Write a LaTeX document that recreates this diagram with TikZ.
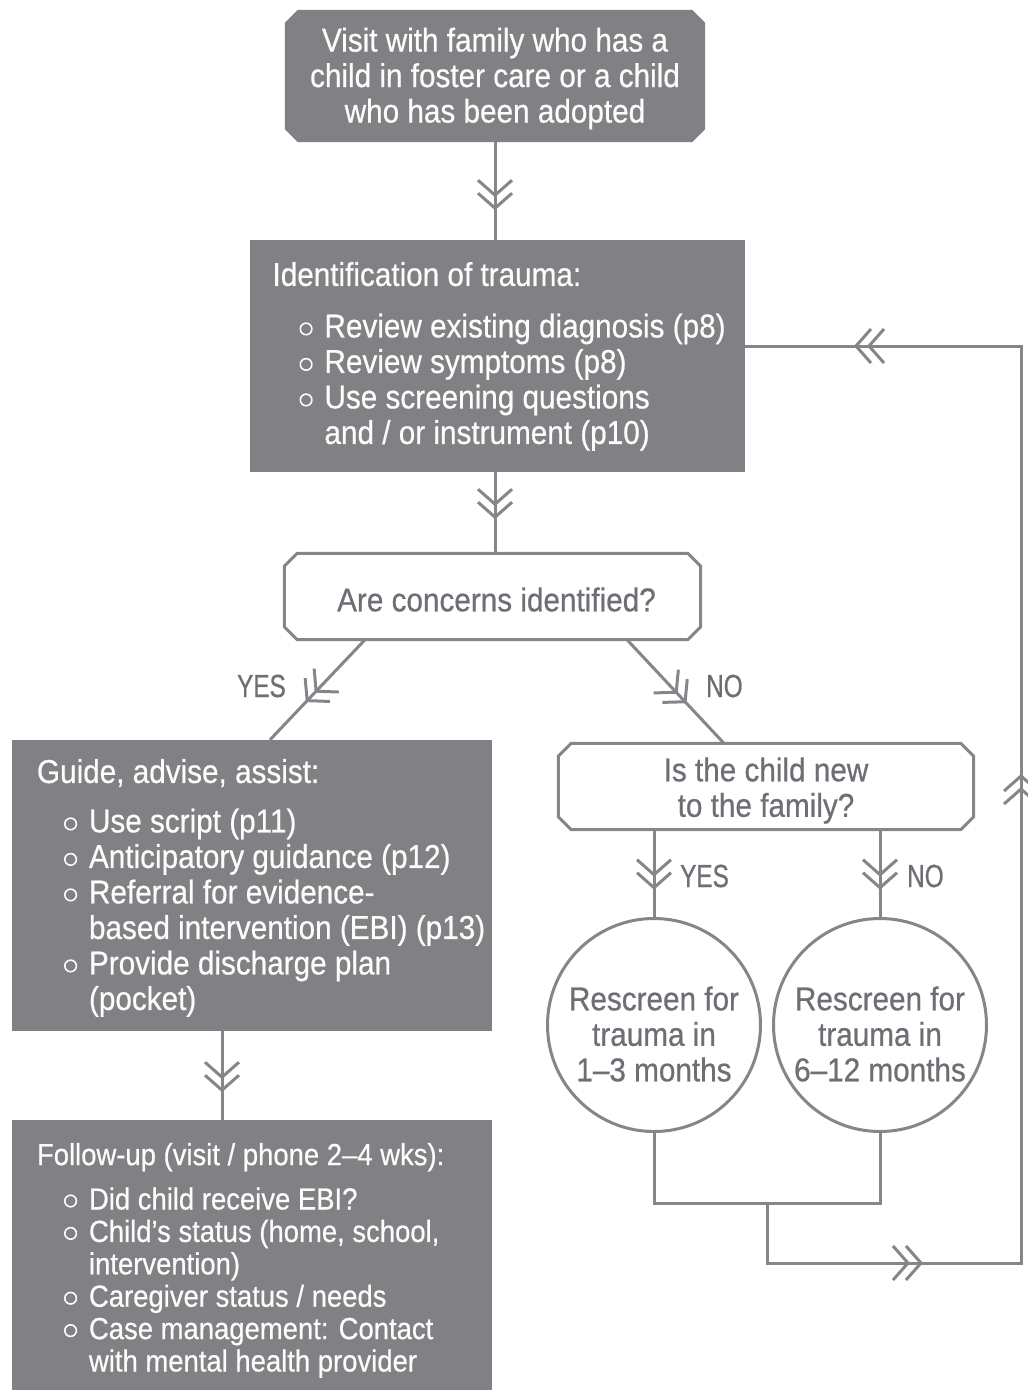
\documentclass[tikz,border=0pt]{standalone}
\usepackage{fontspec}
\setmainfont{Liberation Sans}[FakeStretch=0.9,FakeBold=0.6]
\newfontfamily\lblfont{Liberation Sans}[FakeStretch=0.76,FakeBold=0.6]
\usetikzlibrary{calc,decorations.markings,backgrounds}

\definecolor{boxfill}{RGB}{128,128,133}
\definecolor{linegray}{RGB}{134,134,138}
\definecolor{textgray}{RGB}{110,111,117}
\definecolor{boxtext}{RGB}{252,252,248}

% hollow round bullet for the lists
\newcommand\listbul{\makebox[25pt][l]{\tikz[baseline=0pt,x=1pt,y=1pt]\draw[line width=1.6pt,boxtext] (0,8.5) circle[radius=5.8];}}
\newcommand\itemind{\hspace*{27pt}}
\newcommand\contind{\hspace*{52pt}}

% octagonal (chamfered) outline around a named node
\newcommand\chamferbox[3]{\path[#3] ([xshift=#2]#1.north west) -- ([xshift=-#2]#1.north east) -- ([yshift=-#2]#1.north east) -- ([yshift=#2]#1.south east) -- ([xshift=-#2]#1.south east) -- ([xshift=#2]#1.south west) -- ([yshift=#2]#1.south west) -- ([yshift=-#2]#1.north west) -- cycle;}

\tikzset{
  conn/.style={draw=linegray, line width=3pt},
  chevat/.style={postaction={decorate,decoration={markings,mark=at position #1 with {
      \draw[linegray,line width=3pt,line join=miter]
        (-15pt,17pt) -- (0pt,0pt) -- (-15pt,-17pt)
        (-28pt,17pt) -- (-13pt,0pt) -- (-28pt,-17pt);}}}},
  darkbox/.style={rectangle, fill=boxfill, inner sep=0pt},
  octbox/.style={rectangle, inner sep=0pt},
  boxtxt/.style={text=boxtext, inner sep=0pt, align=left, font=\fontsize{33}{35.5}\selectfont},
  centxt/.style={inner sep=0pt, align=center, font=\fontsize{33}{35.5}\selectfont},
  circ/.style={circle, draw=linegray, line width=3pt, fill=white, minimum size=213pt, inner sep=0pt},
  lbl/.style={text=textgray, inner sep=0pt, font=\lblfont\fontsize{32}{34}\selectfont},
}

\begin{document}
\begin{tikzpicture}[x=1pt,y=-1pt]
\useasboundingbox (0,0) rectangle (1028,1390);
\clip (0,0) rectangle (1028,1390);

% box shapes
\node[octbox, minimum width=420pt, minimum height=132pt] (visit) at (495,76) {};
\node[darkbox, minimum width=495pt, minimum height=232pt] (trauma) at (497,356) {};
\node[octbox, minimum width=416pt, minimum height=86pt] (q1) at (492.5,596.5) {};
\node[darkbox, minimum width=480pt, minimum height=291pt] (guide) at (252,885.5) {};
\node[darkbox, minimum width=480pt, minimum height=282pt] (follow) at (252,1261) {};
\node[octbox, minimum width=415pt, minimum height=86pt] (newq) at (766,786.5) {};
\node[circ] (r1) at (654,1025) {};
\node[circ] (r2) at (880,1025) {};

% chamfered shapes behind the text
\begin{scope}[on background layer]
  \chamferbox{visit}{13pt}{fill=boxfill}
  \chamferbox{q1}{13pt}{draw=linegray, line width=3pt, fill=white}
  \chamferbox{newq}{13pt}{draw=linegray, line width=3pt, fill=white}
\end{scope}

% box texts
\node[centxt, text=boxtext] (visit-t) at ([yshift=-2.5pt]visit.center)
  {Visit with family who has a\\child in foster care or a child\\who has been adopted};

\node[boxtxt, anchor=north west] (trauma-t) at ([xshift=23pt,yshift=-22pt]trauma.north west)
  {Identification of trauma:\\[16pt]
   \itemind\listbul Review existing diagnosis (p8)\\
   \itemind\listbul Review symptoms (p8)\\
   \itemind\listbul Use screening questions\\
   \contind and / or instrument (p10)};

\node[centxt, text=textgray] (q1-t) at ([xshift=4pt,yshift=-3pt]q1.center)
  {Are concerns identified?};

\node[boxtxt, anchor=north west] (guide-t) at ([xshift=25pt,yshift=-19pt]guide.north west)
  {Guide, advise, assist:\\[14pt]
   \itemind\listbul Use script (p11)\\
   \itemind\listbul Anticipatory guidance (p12)\\
   \itemind\listbul Referral for evidence-\\
   \contind based intervention (EBI) (p13)\\
   \itemind\listbul Provide discharge plan\\
   \contind (pocket)};

\node[boxtxt, anchor=north west, font=\fontsize{30.5}{32.4}\selectfont] (follow-t)
  at ([xshift=25pt,yshift=-23pt]follow.north west)
  {Follow-up (visit / phone 2–4 wks):\\[12pt]
   \itemind\listbul Did child receive EBI?\\
   \itemind\listbul Child’s status (home, school,\\
   \contind intervention)\\
   \itemind\listbul Caregiver status / needs\\
   \itemind\listbul Case management: Contact\\
   \contind with mental health provider};

\node[centxt, text=textgray] (newq-t) at ([yshift=-4pt]newq.center)
  {Is the child new\\to the family?};

\node[centxt, text=textgray] (r1-t) at ([yshift=-9pt]r1.center) {Rescreen for\\trauma in\\1–3 months};
\node[centxt, text=textgray] (r2-t) at ([yshift=-9pt]r2.center) {Rescreen for\\trauma in\\6–12 months};

% branch labels
\node[lbl, anchor=east] (yes1) at (286,686) {YES};
\node[lbl, anchor=west] (no1) at (706,686) {NO};
\node[lbl, anchor=west] (yes2) at (680,876) {YES};
\node[lbl, anchor=west] (no2) at (907,876) {NO};

% connectors
\draw[conn, chevat=66pt] (visit.south) -- (trauma.north -| visit.south);
\draw[conn, chevat=45pt] (trauma.south -| visit.south) -- (q1.north -| visit.south);
\draw[conn, chevat=84pt] ($(q1.south)+(-127.5,0)$) -- ($(guide.north)+(18,0)$);
\draw[conn, chevat=85pt] ($(q1.south)+(134.5,0)$) -- ($(newq.north)+(-42,0)$);
\draw[conn, chevat=58pt] (newq.south -| r1.north) -- (r1.north);
\draw[conn, chevat=58pt] (newq.south -| r2.north) -- (r2.north);
\draw[conn, chevat=59pt] ($(guide.south)+(-30,0)$) -- ($(follow.north)+(-30,0)$);

% return path to the screening step
\draw[conn] (r1.south) -- ++(0,70) -| (r2.south);
\coordinate (joinpt) at ($(r1.south)!0.5!(r2.south)+(0,70)$);
\coordinate (loopcorner) at (1021,1263);
\draw[conn, chevat=214pt, chevat=801pt, chevat=1396pt]
  (joinpt) |- (loopcorner) |- ($(trauma.east)+(0,-10)$);
\end{tikzpicture}
\end{document}
